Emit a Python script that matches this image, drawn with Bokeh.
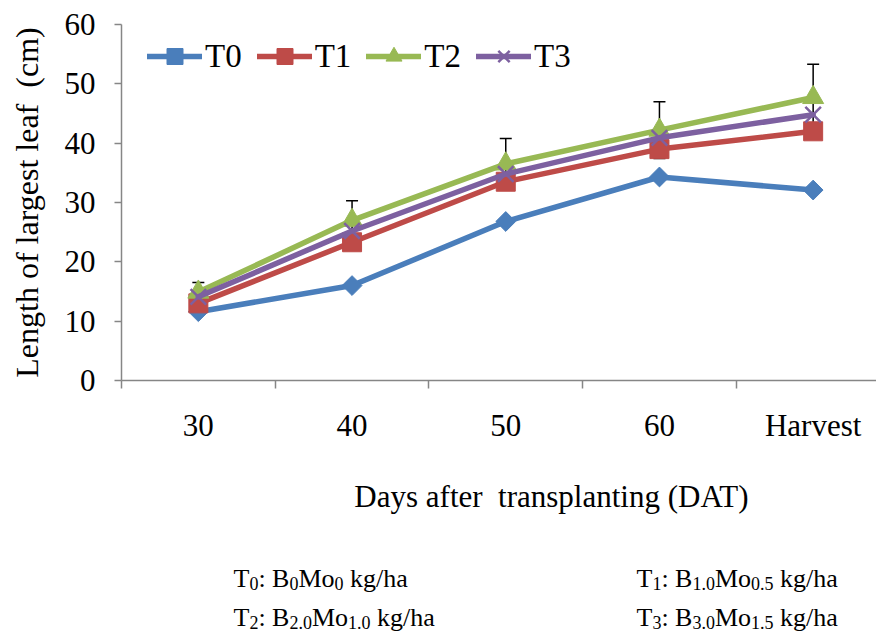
import math

from bokeh.plotting import figure
from bokeh.layouts import column
from bokeh.models import (ColumnDataSource, FixedTicker, Legend, LegendItem,
                          Whisker, TeeHead, Range1d)
from bokeh.core.properties import value
from bokeh.embed import file_html
from bokeh.resources import INLINE

# ---- data -------------------------------------------------------------
stages = ["30", "40", "50", "60", "Harvest"]
t0 = [11.6, 16.0, 26.8, 34.3, 32.1]
t1 = [13.0, 23.3, 33.5, 39.0, 42.0]
t2 = [14.9, 27.0, 36.5, 42.2, 47.7]
t3 = [14.1, 25.2, 34.8, 40.9, 44.8]
t2_err = [1.6, 3.3, 4.3, 4.8, 5.6]
y_ticks = [0, 10, 20, 30, 40, 50, 60]
series_names = ["T0", "T1", "T2", "T3"]

x_title = "Days after \u00a0transplanting (DAT)"
y_title = "Length of largest leaf \u00a0(cm)"

# treatment key, as (text, is_subscript) runs
key_t0 = [("T", 0), ("0", 1), (": B", 0), ("0", 1), ("Mo", 0), ("0", 1), (" kg/ha", 0)]
key_t1 = [("T", 0), ("1", 1), (": B", 0), ("1.0", 1), ("Mo", 0), ("0.5", 1), (" kg/ha", 0)]
key_t2 = [("T", 0), ("2", 1), (": B", 0), ("2.0", 1), ("Mo", 0), ("1.0", 1), (" kg/ha", 0)]
key_t3 = [("T", 0), ("3", 1), (": B", 0), ("3.0", 1), ("Mo", 0), ("1.5", 1), (" kg/ha", 0)]

# ---- styling ----------------------------------------------------------
FONT = "Liberation Serif"
AXIS_GREY = "#868686"
COLORS = ["#4A7EBB", "#BE4B48", "#98B954", "#7D60A0"]
W = 876
H_CHART, H_NOTES = 460, 175
LEFT, TOP, BOTTOM = 121, 24, 80
SLOT_PX = 153.7          # width of one category slot on screen
frame_w = W - LEFT

x = list(range(len(stages)))

p = figure(width=W, height=H_CHART, output_backend="svg", toolbar_location=None,
           x_range=Range1d(-0.5, -0.5 + frame_w / SLOT_PX),
           y_range=Range1d(0, 60),
           min_border_left=LEFT, min_border_right=0,
           min_border_top=TOP, min_border_bottom=BOTTOM)
p.outline_line_color = None
p.grid.visible = False
p.background_fill_color = "white"
p.border_fill_color = "white"

# x axis: labels centred in each slot, tick marks between slots
xa = p.xaxis[0]
xa.ticker = FixedTicker(ticks=x, minor_ticks=[i - 0.5 for i in range(len(stages) + 1)])
xa.major_label_overrides = {i: s for i, s in enumerate(stages)}
xa.major_tick_out = 0
xa.major_tick_in = 0
xa.minor_tick_out = 8
xa.minor_tick_in = 0
xa.minor_tick_line_color = AXIS_GREY
xa.minor_tick_line_width = 1.5
xa.axis_line_color = AXIS_GREY
xa.axis_line_width = 1.5
xa.major_label_text_font = FONT
xa.major_label_text_font_size = "31px"
xa.major_label_text_color = "black"
xa.major_label_standoff = 19

ya = p.yaxis[0]
ya.ticker = FixedTicker(ticks=y_ticks)
ya.major_tick_out = 7
ya.major_tick_in = 0
ya.minor_tick_line_color = None
ya.major_tick_line_color = AXIS_GREY
ya.major_tick_line_width = 1.5
ya.axis_line_color = AXIS_GREY
ya.axis_line_width = 1.5
ya.major_label_text_font = FONT
ya.major_label_text_font_size = "31px"
ya.major_label_text_color = "black"
ya.major_label_standoff = 19
ya.axis_label = y_title
ya.axis_label_text_font = FONT
ya.axis_label_text_font_size = "32px"
ya.axis_label_text_font_style = "normal"
ya.axis_label_text_color = "black"
ya.axis_label_standoff = 17

# error bars on T2, drawn beneath the lines
err_src = ColumnDataSource(dict(
    x=x,
    upper=[m + e for m, e in zip(t2, t2_err)],
    lower=[m - e for m, e in zip(t2, t2_err)],
))
whisk = Whisker(source=err_src, base="x", upper="upper", lower="lower",
                dimension="height", line_color="black", line_width=1.5,
                upper_head=TeeHead(size=12, line_color="black", line_width=1.5),
                lower_head=TeeHead(size=12, line_color="black", line_width=1.5),
                level="underlay")
p.add_layout(whisk)

marker_styles = [
    dict(marker="square", angle=math.pi / 4, size=14),
    dict(marker="square", size=19),
    dict(marker="triangle", size=21),
    dict(marker="x", size=22, line_width=2.5),
]

items = []
for name, vals, col, ms in zip(series_names, [t0, t1, t2, t3], COLORS, marker_styles):
    ln = p.line(x, vals, line_color=col, line_width=5.5,
                line_join="round", line_cap="round")
    sc = p.scatter(x, vals, fill_color=col, line_color=col, **ms)
    items.append(LegendItem(label=name, renderers=[ln, sc]))

legend = Legend(items=items, orientation="horizontal", location=(26, 304),
                glyph_width=55, glyph_height=40, label_standoff=3, spacing=15,
                padding=0, margin=0, border_line_color=None,
                background_fill_alpha=0,
                label_text_font=FONT, label_text_font_size="33px",
                label_text_color="black")
p.add_layout(legend)

# ---- lower panel: x-axis title and treatment key ----------------------
# data coordinates here are page pixels (x from the left, y from the top of this panel)
notes = figure(width=W, height=H_NOTES, output_backend="svg", toolbar_location=None,
               x_range=Range1d(LEFT, W), y_range=Range1d(H_NOTES, 0),
               min_border_left=LEFT, min_border_right=0,
               min_border_top=0, min_border_bottom=0,
               x_axis_type=None, y_axis_type=None)
notes.outline_line_color = None
notes.grid.visible = False
notes.background_fill_color = "white"
notes.border_fill_color = "white"

notes.text(x=[551], y=[36], text=[x_title], text_font=value(FONT),
           text_font_size=value("31px"), text_align="center",
           text_baseline="middle", text_color="black")

MAIN, SUB, SUB_DROP = 26, 18, 5
ADV = {"T": .611, "B": .667, "M": .889, "o": .5, "k": .5, "g": .5, "h": .5,
       "a": .444, "/": .278, ":": .278, " ": .25, ".": .25}


def advance(s, size):
    return sum(ADV.get(c, .5) for c in s) * size


runs = {0: dict(x=[], y=[], text=[]), 1: dict(x=[], y=[], text=[])}


def rich_text(x0, baseline, parts):
    cx = x0
    for txt, sub in parts:
        size = SUB if sub else MAIN
        runs[sub]["x"].append(cx)
        runs[sub]["y"].append(baseline + (SUB_DROP if sub else 0))
        runs[sub]["text"].append(txt.replace(" ", "\u00a0"))
        cx += advance(txt, size)


rich_text(233, 578 - H_CHART, key_t0)
rich_text(636, 578 - H_CHART, key_t1)
rich_text(233, 617 - H_CHART, key_t2)
rich_text(636, 617 - H_CHART, key_t3)

for sub, size in ((0, MAIN), (1, SUB)):
    notes.text(x="x", y="y", text="text", source=ColumnDataSource(runs[sub]),
               text_font=value(FONT), text_font_size=value(f"{size}px"),
               text_align="left", text_baseline="alphabetic", text_color="black")

layout = column(p, notes, spacing=0)
open("out.html", "w").write(file_html(layout, INLINE))
